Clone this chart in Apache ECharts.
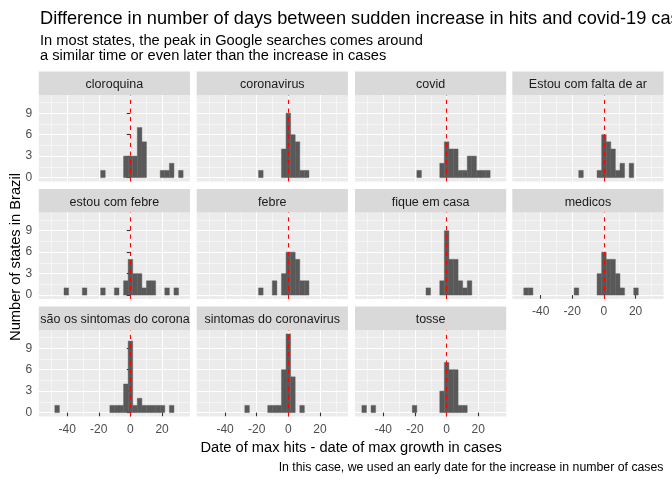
<!DOCTYPE html>
<html>
<head>
<meta charset="utf-8">
<script src="https://cdn.jsdelivr.net/npm/echarts@6/dist/echarts.min.js"></script>
<style>
  html, body { margin: 0; padding: 0; background: #fff; }
  #chart { width: 672px; height: 480px; }
</style>
</head>
<body>
<div id="chart"></div>
<script>
// histogram: 30 bins of equal width, bin k is centred on k * binWidth
const binWidth = 2.8966
const firstBin = -18

// number of states per bin, bins k = -18 .. 11
const cloroquina =            [0,0,0,0,0,0,0,0,0,0, 0,0,1,0,0,0,0,3,3,3, 7,5,0,0,0,1,1,2,0,1]
const coronavirus =           [0,0,0,0,0,0,0,0,0,0, 0,0,1,0,0,0,0,4,9,6, 5,1,1,0,0,0,0,0,0,0]
const covid =                 [0,0,0,0,0,0,0,0,0,0, 0,0,1,0,0,0,0,2,5,4, 4,1,1,3,3,1,1,1,0,0]
const estouComFaltaDeAr =     [0,0,0,0,0,0,0,0,0,0, 0,0,0,1,0,0,0,1,6,5, 4,1,2,0,2,0,0,0,0,0]
const estouComFebre =         [0,0,0,0,1,0,0,0,1,0, 0,0,1,0,0,1,0,2,5,3, 3,1,2,2,0,0,1,0,1,0]
const febre =                 [0,0,0,0,0,0,0,0,0,0, 0,0,1,0,0,2,0,3,6,6, 5,2,2,0,0,0,0,0,0,0]
const fiqueEmCasa =           [0,0,0,0,0,0,0,0,0,0, 0,0,0,0,1,0,0,2,9,5, 5,2,1,2,0,0,0,0,0,0]
const medicos =               [0,1,1,0,0,0,0,0,0,0, 0,0,1,0,0,0,0,3,6,5, 5,3,1,0,0,1,0,0,0,0]
const saoOsSintomas =         [0,0,1,0,0,0,0,0,0,0, 0,0,0,0,1,1,1,4,10,1, 2,1,1,1,1,1,0,1,0,0]
const sintomasDoCoronavirus = [0,0,0,0,0,0,0,0,0,1, 0,0,0,0,1,1,1,6,11,5, 0,1,0,0,0,0,0,0,0,0]
const tosse =                 [1,0,1,0,0,0,0,0,0,0, 0,1,0,0,0,0,0,3,7,6, 6,1,1,0,0,0,0,0,0,0]

const terms = ['cloroquina', 'coronavirus', 'covid', 'Estou com falta de ar', 'estou com febre', 'febre',
  'fique em casa', 'medicos', 'são os sintomas do coronavirus', 'sintomas do coronavirus', 'tosse']
const counts = [cloroquina, coronavirus, covid, estouComFaltaDeAr, estouComFebre, febre,
  fiqueEmCasa, medicos, saoOsSintomas, sintomasDoCoronavirus, tosse]

const xMajor = [-40, -20, 0, 20]
const xMinor = [-50, -30, -10, 10, 30]
const yMajor = [0, 3, 6, 9]
const yMinor = [1.5, 4.5, 7.5, 10.5]

// layout of the facets
const colLeft = [38.8, 196.7, 355, 512.3]
const rowTop = [95, 212.5, 330]
const panelW = 151.2
const panelH = 86.5
const stripH = 23.5
const FONT = 'Liberation Sans, Arial, sans-serif'

const chartDom = document.getElementById('chart')
const myChart = echarts.init(chartDom)

const grid = [], xAxis = [], yAxis = [], series = [], graphic = []

terms.forEach((term, i) => {
  const row = Math.floor(i / 4)
  const col = i % 4
  const left = colLeft[col]
  const top = rowTop[row]
  const showX = row === 2 || i === 7
  const showY = col === 0

  grid.push({ left: left, top: top, width: panelW, height: panelH, backgroundColor: '#EBEBEB', show: true, borderWidth: 0 })

  // major + minor x axes (minor only for grid lines)
  xAxis.push({
    gridIndex: i, type: 'value', min: -57.93, max: 37.66,
    axisLine: { show: false },
    axisTick: { show: showX, length: 3.7, customValues: xMajor, lineStyle: { color: '#333333', width: 1.07 } },
    axisLabel: { show: showX, customValues: xMajor, margin: 7, color: '#4D4D4D', fontSize: 12, fontFamily: FONT },
    splitLine: { show: true, lineStyle: { color: '#FFFFFF', width: 1.07 } }
  })
  xAxis.push({
    gridIndex: i, type: 'value', min: -57.93, max: 37.66,
    axisLine: { show: false },
    axisTick: { show: false, customValues: xMinor },
    axisLabel: { show: false, customValues: xMinor },
    splitLine: { show: true, lineStyle: { color: '#FFFFFF', width: 0.53 } }
  })
  yAxis.push({
    gridIndex: i, type: 'value', min: -0.55, max: 11.55,
    axisLine: { show: false },
    axisTick: { show: showY, length: 3.7, customValues: yMajor, lineStyle: { color: '#333333', width: 1.07 } },
    axisLabel: { show: showY, customValues: yMajor, margin: 6.6, color: '#4D4D4D', fontSize: 12, fontFamily: FONT, padding: [3, 0, 0, 0] },
    splitLine: { show: true, lineStyle: { color: '#FFFFFF', width: 1.07 } }
  })
  yAxis.push({
    gridIndex: i, type: 'value', min: -0.55, max: 11.55,
    axisLine: { show: false },
    axisTick: { show: false, customValues: yMinor },
    axisLabel: { show: false, customValues: yMinor },
    splitLine: { show: true, lineStyle: { color: '#FFFFFF', width: 0.53 } }
  })

  const data = []
  counts[i].forEach((n, j) => {
    if (n > 0) {
      const k = firstBin + j
      data.push([(k - 0.5) * binWidth, (k + 0.5) * binWidth, n])
    }
  })

  series.push({
    type: 'custom',
    xAxisIndex: 2 * i,
    yAxisIndex: 2 * i,
    encode: { x: [0, 1], y: 2 },
    data: data,
    renderItem: function (params, api) {
      const p0 = api.coord([api.value(0), api.value(2)])
      const p1 = api.coord([api.value(1), 0])
      return {
        type: 'rect',
        shape: { x: p0[0], y: p0[1], width: p1[0] - p0[0], height: p1[1] - p0[1] },
        style: { fill: '#595959', stroke: '#595959', lineWidth: 0.4 }
      }
    },
    markLine: {
      silent: true,
      symbol: 'none',
      label: { show: false },
      lineStyle: { color: '#FF0000', type: [4.3, 4.3], width: 1.07 },
      data: [{ xAxis: 0 }]
    }
  })

  // facet strip
  const longLabel = term.length > 25
  graphic.push({
    type: 'rect',
    shape: { x: left, y: top - stripH, width: panelW, height: stripH },
    style: { fill: '#D9D9D9' }
  })
  graphic.push({
    type: 'text',
    x: longLabel ? left + 1.5 : left + panelW / 2,
    y: top - stripH / 2 + 1.5,
    style: {
      text: term,
      fill: '#1A1A1A',
      font: '12.5px ' + FONT,
      align: longLabel ? 'left' : 'center',
      textAlign: longLabel ? 'left' : 'center',
      verticalAlign: 'middle',
      textVerticalAlign: 'middle',
      width: panelW + 5,
      overflow: 'truncate',
      ellipsis: ''
    }
  })
})

// titles and axis titles
const texts = [
  { t: 'Difference in number of days between sudden increase in hits and covid-19 cases', x: 40, y: 18.9, size: 18.2, align: 'left' },
  { t: 'In most states, the peak in Google searches comes around', x: 40, y: 40.5, size: 14.67, align: 'left' },
  { t: 'a similar time or even later than the increase in cases', x: 40, y: 56, size: 14.67, align: 'left' },
  { t: 'Date of max hits - date of max growth in cases', x: 351.2, y: 447.5, size: 14.67, align: 'center' },
  { t: 'In this case, we used an early date for the increase in number of cases', x: 663.5, y: 467.5, size: 12.3, align: 'right' }
]
texts.forEach(d => {
  graphic.push({
    type: 'text', x: d.x, y: d.y,
    style: {
      text: d.t, fill: '#000000', font: d.size + 'px ' + FONT,
      align: d.align, textAlign: d.align, verticalAlign: 'middle', textVerticalAlign: 'middle'
    }
  })
})
graphic.push({
  type: 'text', x: 16, y: 257, rotation: Math.PI / 2,
  style: {
    text: 'Number of states in Brazil', fill: '#000000', font: '14.67px ' + FONT,
    align: 'center', textAlign: 'center', verticalAlign: 'middle', textVerticalAlign: 'middle'
  }
})

const option = {
  animation: false,
  backgroundColor: '#FFFFFF',
  grid: grid,
  xAxis: xAxis,
  yAxis: yAxis,
  series: series,
  graphic: { elements: graphic }
}

option && myChart.setOption(option)
</script>
</body>
</html>
